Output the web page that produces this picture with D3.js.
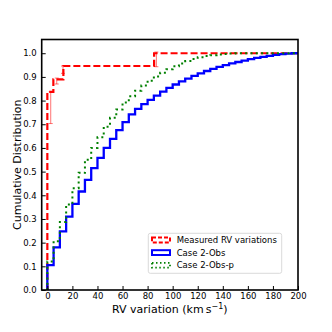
<!DOCTYPE html>
<html>
<head>
<meta charset="utf-8">
<script src="https://cdn.jsdelivr.net/npm/d3@7"></script>
<style>
  body { margin: 0; background: #fff; }
  text { font-family: "DejaVu Sans", sans-serif; }
</style>
</head>
<body>
<div id="chart"></div>
<script>
// bin edges (km/s) of the cumulative step histograms
const binEdges = [0, 5, 10, 15, 20, 25, 30, 35, 40, 45, 50, 55, 60, 65, 70, 75, 80, 85, 90, 95, 100,
  105, 110, 115, 120, 125, 130, 135, 140, 145, 150, 155, 160, 165, 170, 175, 180, 185, 190, 195, 200];

// Case 2-Obs cumulative values per bin
const case2Obs = [0.105, 0.18, 0.248, 0.31, 0.364, 0.416, 0.465, 0.515, 0.558, 0.6,
  0.638, 0.675, 0.709, 0.742, 0.765, 0.785, 0.803, 0.821, 0.838, 0.854,
  0.868, 0.881, 0.893, 0.904, 0.915, 0.925, 0.934, 0.942, 0.95, 0.957,
  0.963, 0.969, 0.975, 0.98, 0.985, 0.989, 0.993, 0.996, 0.998, 1.0];

// Case 2-Obs-p cumulative values per bin
const case2ObsP = [0.12, 0.206, 0.287, 0.361, 0.43, 0.495, 0.55, 0.6, 0.645, 0.69,
  0.727, 0.762, 0.792, 0.818, 0.842, 0.864, 0.884, 0.902, 0.918, 0.932,
  0.945, 0.957, 0.967, 0.976, 0.983, 0.988, 0.992, 0.995, 0.997, 0.999,
  1.0, 1.0, 1.0, 1.0, 1.0, 1.0, 1.0, 1.0, 1.0, 1.0];

// measured RV variations: step positions and cumulative values
const measEdges = [0, 4.8, 12.8, 85.2, 200];
const measCum = [0.837, 0.89, 0.946, 1.0];

// error bars on the measured curve
const errX = [2.7, 7.5, 12.5, 87];
const errLo = [0.703, 0.87, 0.915, 0.943];
const errHi = [0.837, 0.895, 0.946, 1.005];

const xTicks = [0, 20, 40, 60, 80, 100, 120, 140, 160, 180, 200];
const yTicks = [0, 0.1, 0.2, 0.3, 0.4, 0.5, 0.6, 0.7, 0.8, 0.9, 1.0];

const legendNames = ["Measured RV variations", "Case 2-Obs", "Case 2-Obs-p"];

const W = 332, H = 332;
const mLeft = 41.7, mRight = 298, mTop = 39.5, mBottom = 290;

const svg = d3.select("#chart").append("svg")
  .attr("width", W).attr("height", H);

svg.append("rect").attr("width", W).attr("height", H).attr("fill", "#fff");

const x = d3.scaleLinear().domain([-4.5, 200]).range([mLeft, mRight]);
const y = d3.scaleLinear().domain([0, 1.058]).range([mBottom, mTop]);

// build step points from edges + cumulative values
const stepPoints = (edges, cum) => {
  const pts = [[edges[0], 0]];
  cum.forEach((c, i) => pts.push([edges[i], c]));
  pts.push([edges[edges.length - 1], cum[cum.length - 1]]);
  return pts;
};

const line = d3.line()
  .x(d => x(d[0]))
  .y(d => y(d[1]))
  .curve(d3.curveStepAfter);

svg.append("clipPath").attr("id", "clip")
  .append("rect").attr("x", mLeft).attr("y", mTop)
  .attr("width", mRight - mLeft).attr("height", mBottom - mTop);

const plot = svg.append("g").attr("clip-path", "url(#clip)");

// measured (red dashed)
plot.append("path")
  .attr("d", line(stepPoints(measEdges, measCum)))
  .attr("fill", "none")
  .attr("stroke", "#ff0000")
  .attr("stroke-width", 2.2)
  .attr("stroke-dasharray", "7,3");

// error bars
const eb = plot.selectAll(".eb").data(errX).enter().append("g")
  .attr("stroke", "#ff0000").attr("stroke-opacity", 0.55).attr("stroke-width", 1);
eb.append("line")
  .attr("x1", d => x(d)).attr("x2", d => x(d))
  .attr("y1", (d, i) => y(errLo[i])).attr("y2", (d, i) => y(errHi[i]));
eb.append("line")
  .attr("x1", d => x(d) - 2).attr("x2", d => x(d) + 2)
  .attr("y1", (d, i) => y(errLo[i])).attr("y2", (d, i) => y(errLo[i]));
eb.append("line")
  .attr("x1", d => x(d) - 2).attr("x2", d => x(d) + 2)
  .attr("y1", (d, i) => y(errHi[i])).attr("y2", (d, i) => y(errHi[i]));

// Case 2-Obs (blue solid)
plot.append("path")
  .attr("d", line(stepPoints(binEdges, case2Obs)))
  .attr("fill", "none")
  .attr("stroke", "#0000ff")
  .attr("stroke-width", 2.3);

// Case 2-Obs-p (green dotted)
plot.append("path")
  .attr("d", line(stepPoints(binEdges, case2ObsP)))
  .attr("fill", "none")
  .attr("stroke", "#008000")
  .attr("stroke-width", 2)
  .attr("stroke-dasharray", "2,3.3");

// axes with inward ticks
const xAxis = svg.append("g")
  .attr("transform", `translate(0,${mBottom})`)
  .call(d3.axisBottom(x).tickValues(xTicks).tickSize(-4).tickPadding(3).tickFormat(d3.format("d")));
const yAxis = svg.append("g")
  .attr("transform", `translate(${mLeft},0)`)
  .call(d3.axisLeft(y).tickValues(yTicks).tickSize(-4).tickPadding(5).tickFormat(d3.format(".1f")));

[xAxis, yAxis].forEach(a => {
  a.select(".domain").remove();
  a.selectAll(".tick line").attr("stroke", "#000").attr("stroke-width", 1);
  a.selectAll(".tick text")
    .attr("fill", "#000")
    .style("font-size", "8.5px")
    .style("font-family", "DejaVu Sans");
});

// frame
svg.append("rect")
  .attr("x", mLeft).attr("y", mTop)
  .attr("width", mRight - mLeft).attr("height", mBottom - mTop)
  .attr("fill", "none").attr("stroke", "#000").attr("stroke-width", 1.6);

// axis labels
const xl = svg.append("text")
  .attr("x", (mLeft + mRight) / 2).attr("y", 313)
  .attr("text-anchor", "middle")
  .style("font-size", "11px");
xl.append("tspan").text("RV variation (km\u2009s");
xl.append("tspan").attr("dy", -4).style("font-size", "8px").text("\u22121");
xl.append("tspan").attr("dy", 4).text(")");

svg.append("text")
  .attr("transform", `translate(21,${(mTop + mBottom) / 2}) rotate(-90)`)
  .attr("text-anchor", "middle")
  .style("font-size", "11px")
  .text("Cumulative Distribution");

// legend
const lg = svg.append("g");
lg.append("rect")
  .attr("x", 148.3).attr("y", 233.3)
  .attr("width", 133.4).attr("height", 40)
  .attr("rx", 2)
  .attr("fill", "#fff").attr("fill-opacity", 0.8)
  .attr("stroke", "#d0d0d0").attr("stroke-width", 0.8);

const legendStyles = [
  { stroke: "#ff0000", dash: "4,2", w: 2 },
  { stroke: "#0000ff", dash: null, w: 2 },
  { stroke: "#008000", dash: "1.5,2.5", w: 1.8 }
];
const rowY = [240, 252.6, 265.2];

const rows = lg.selectAll(".row").data(legendNames).enter().append("g")
  .attr("transform", (d, i) => `translate(0,${rowY[i]})`);
rows.append("rect")
  .attr("x", 152).attr("y", -2.4)
  .attr("width", 18).attr("height", 4.8)
  .attr("fill", "none")
  .attr("stroke", (d, i) => legendStyles[i].stroke)
  .attr("stroke-width", (d, i) => legendStyles[i].w)
  .attr("stroke-dasharray", (d, i) => legendStyles[i].dash);
rows.append("text")
  .attr("x", 176.7).attr("y", 3)
  .style("font-size", "8.5px")
  .text(d => d);
</script>
</body>
</html>
